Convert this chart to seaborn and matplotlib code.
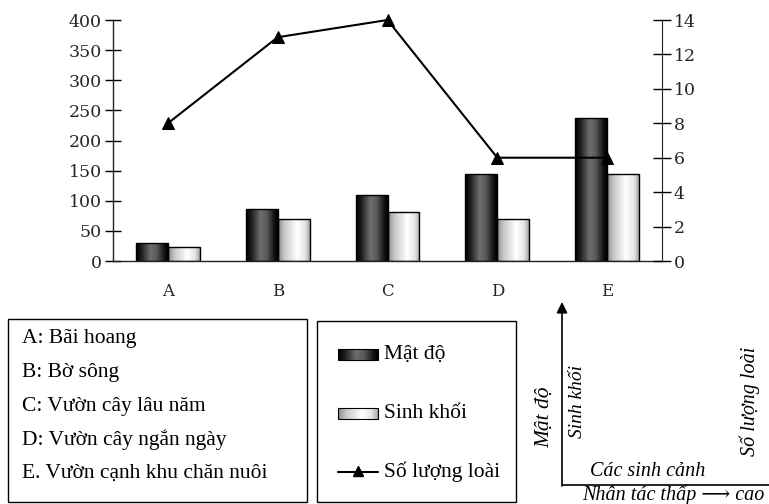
import numpy as np
import pandas as pd
import matplotlib
matplotlib.use("Agg")
import matplotlib.pyplot as plt
from matplotlib.colors import LinearSegmentedColormap
import seaborn as sns

# Data
categories = ["A", "B", "C", "D", "E"]
mat_do = [30, 86, 109, 144, 237]
sinh_khoi = [24, 69, 81, 70, 144]
so_luong_loai = [8, 13, 14, 6, 6]
habitat_names = ["A: Bãi hoang", "B: Bờ sông", "C: Vườn cây lâu năm",
                 "D: Vườn cây ngắn ngày", "E. Vườn cạnh khu chăn nuôi"]

sns.set_style("white")
plt.rcParams["font.family"] = ["DejaVu Serif"]

W, H = 769, 504
fig = plt.figure(figsize=(W / 100, H / 100), dpi=100)

def px_rect(x0, y0, x1, y1):
    return [x0 / W, 1 - y1 / H, (x1 - x0) / W, (y1 - y0) / H]

# gradients used for the bar faces
dark_cmap = LinearSegmentedColormap.from_list(
    "dark", [(0, "#000000"), (0.15, "#1a1a1a"), (0.45, "#6e6e6e"),
             (0.65, "#5a5a5a"), (0.9, "#111111"), (1, "#000000")])
light_cmap = LinearSegmentedColormap.from_list(
    "light", [(0, "#8c8c8c"), (0.2, "#c8c8c8"), (0.6, "#ffffff"),
              (0.85, "#e6e6e6"), (1, "#a8a8a8")])
grad = np.linspace(0, 1, 64).reshape(1, -1)

# main chart
ax = fig.add_axes(px_rect(113, 20, 662, 261))
df = pd.DataFrame({
    "cat": categories * 2,
    "val": mat_do + sinh_khoi,
    "series": ["Mật độ"] * 5 + ["Sinh khối"] * 5,
})
sns.barplot(data=df, x="cat", y="val", hue="series", ax=ax,
            palette=["#333333", "#eeeeee"], width=0.58, gap=0,
            edgecolor="black", linewidth=1, legend=False)

for i, p in enumerate(ax.patches[:10]):
    x0, y0 = p.get_x(), p.get_y()
    w, h = p.get_width(), p.get_height()
    cmap = dark_cmap if i < 5 else light_cmap
    im = ax.imshow(grad, cmap=cmap, extent=[x0, x0 + w, y0, y0 + h],
                   aspect="auto", zorder=p.get_zorder() - 0.05)
    im.set_clip_path(p)
    p.set_facecolor("none")

ax.set_xlim(-0.5, 4.5)
ax.set_ylim(0, 400)
ax.set_yticks(range(0, 401, 50))
ax.set_xticks(range(5))
ax.set_xticklabels(categories, fontsize=12)
ax.set_xticks([0.5, 1.5, 2.5, 3.5], minor=True)
ax.tick_params(axis="x", which="major", length=0, pad=16)
ax.tick_params(axis="x", which="minor", direction="inout", length=9,
               width=1, color="black")
ax.tick_params(axis="y", direction="inout", length=12, width=1,
               color="black", labelsize=12.5, pad=2)
ax.set_xlabel("")
ax.set_ylabel("")
for s in ["top", "right"]:
    ax.spines[s].set_visible(False)
for s in ["left", "bottom"]:
    ax.spines[s].set_color("#222222")
    ax.spines[s].set_linewidth(1)

ax2 = ax.twinx()
sns.lineplot(x=categories, y=so_luong_loai, ax=ax2, color="black",
             marker="^", markersize=8, linewidth=1.5, markeredgecolor="black",
             clip_on=False)
ax2.set_ylim(0, 14)
ax2.set_yticks(range(0, 15, 2))
ax2.tick_params(axis="y", direction="inout", length=13, width=1,
                color="black", labelsize=12.5, pad=2)
for s in ["top", "left", "bottom"]:
    ax2.spines[s].set_visible(False)
ax2.spines["right"].set_color("#222222")
ax2.set_ylabel("")

# overlay in pixel coordinates for the boxes and the sketch
ov = fig.add_axes([0, 0, 1, 1], zorder=-1)
ov.set_xlim(0, W)
ov.set_ylim(H, 0)
ov.axis("off")
tf = dict(family=["Liberation Serif", "DejaVu Serif"], color="black")

# box 1: habitat names
ov.add_patch(plt.Rectangle((8, 319), 299, 183, fill=False, lw=1, ec="black"))
for name, y in zip(habitat_names, [338, 372, 406, 440, 473]):
    ov.text(22, y, name, fontsize=15.5, va="center", ha="left", **tf)

# box 2: legend
ov.add_patch(plt.Rectangle((317, 321), 199, 181, fill=False, lw=1, ec="black"))
for cmap, y, label in [(dark_cmap, 354, "Mật độ"), (light_cmap, 413, "Sinh khối")]:
    ov.imshow(grad, cmap=cmap, extent=[338, 378, y + 6, y - 5], aspect="auto")
    ov.add_patch(plt.Rectangle((338, y - 5), 40, 11, fill=False, lw=0.8, ec="black"))
    ov.text(384, y, label, fontsize=15.5, va="center", ha="left", **tf)
ov.plot([338, 378], [472, 472], color="black", lw=1.5)
ov.plot([358], [471], marker="^", color="black", markersize=7)
ov.text(384, 472, "Số lượng loài", fontsize=15.5, va="center", ha="left", **tf)

# sketch axes in the bottom right corner
ov.annotate("", xy=(562, 302), xytext=(562, 486),
            arrowprops=dict(arrowstyle="-|>", color="black", lw=1.2,
                            mutation_scale=16, shrinkA=0, shrinkB=0))
ov.annotate("", xy=(771, 302), xytext=(771, 486),
            arrowprops=dict(arrowstyle="-|>", color="black", lw=1.2,
                            mutation_scale=22, shrinkA=0, shrinkB=0))
ov.plot([562, W], [485, 485], color="black", lw=1.2)
it = dict(tf, style="italic")
ov.text(545, 417, "Mật độ", rotation=90, fontsize=15.5, va="center", ha="center", **it)
ov.text(577, 402, "Sinh khối", rotation=90, fontsize=14, va="center", ha="center", **it)
ov.text(750, 401, "Số lượng loài", rotation=90, fontsize=14.5, va="center", ha="center", **it)
ov.text(590, 471, "Các sinh cảnh", fontsize=14.5, va="center", ha="left", **it)
ov.text(582, 495, "Nhân tác thấp ⟶ cao", fontsize=14.5, va="center", ha="left", **it)

fig.savefig("out.png", dpi=100)
